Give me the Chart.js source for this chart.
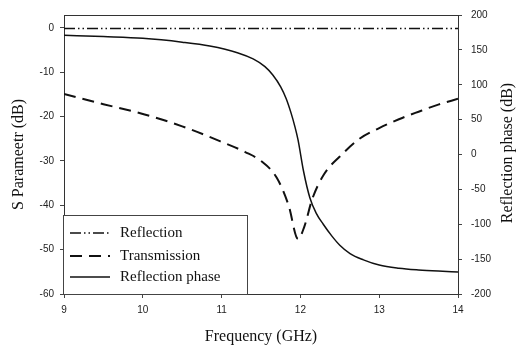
<!DOCTYPE html>
<html>
<head>
<meta charset="utf-8">
<script src="https://cdn.jsdelivr.net/npm/chart.js@4/dist/chart.umd.min.js"></script>
<style>
html, body { margin: 0; padding: 0; background: #fff; }
#wrap { width: 520px; height: 346px; }
</style>
</head>
<body>
<div id="wrap"><canvas id="chart"></canvas></div>
<script>
// values (frequency in GHz)
var reflFreq = [9, 10, 11, 12, 13, 14];
var reflDb = [-0.15, -0.15, -0.15, -0.15, -0.15, -0.15];

var transFreq = [9, 9.5, 10, 10.5, 11, 11.3, 11.5, 11.7, 11.85, 11.97, 12.05, 12.15, 12.3, 12.5, 12.75, 13, 13.25, 13.5, 13.75, 14];
var transDb = [-14.9, -17.2, -19.4, -22.2, -25.7, -28.0, -30.0, -33.8, -40.0, -47.6, -44.8, -38.6, -33.0, -29.0, -25.0, -22.6, -20.6, -18.9, -17.3, -16.0];

var phaseFreq = [9, 9.5, 10, 10.5, 10.85, 11.2, 11.4, 11.55, 11.65, 11.75, 11.82, 11.88, 11.93, 11.97, 12.04, 12.12, 12.2, 12.29, 12.4, 12.5, 12.63, 12.8, 13, 13.25, 13.5, 13.75, 14];
var phaseDeg = [171, 169, 166.5, 161, 155.5, 146, 137, 126, 114, 97, 80, 60, 40, 21, -24, -62, -84, -100, -117, -130, -142, -151, -158.5, -163, -165.5, -167.2, -168.5];

var xTicks = [9, 10, 11, 12, 13, 14];
var leftTicks = [-60, -50, -40, -30, -20, -10, 0];
var rightTicks = [-200, -150, -100, -50, 0, 50, 100, 150, 200];

function pts(xs, ys) {
    return xs.map(function (x, i) { return { x: x, y: ys[i] }; });
}

var tickFont = { family: "Liberation Sans", size: 10 };
var titleFont = { family: "Liberation Serif", size: 16 };

var framePlugin = {
    id: "frame",
    beforeDatasetsDraw: function (chart) {
        var ctx = chart.ctx, ca = chart.chartArea;
        ctx.save();
        ctx.strokeStyle = "#333";
        ctx.lineWidth = 1;
        ctx.strokeRect(Math.round(ca.left) + 0.5, Math.round(ca.top) + 0.5, Math.round(ca.right - ca.left), Math.round(ca.bottom - ca.top));
        ctx.restore();
    },
    afterDraw: function (chart) {
        var ctx = chart.ctx;
        // legend box
        ctx.save();
        ctx.fillStyle = "#fff";
        ctx.fillRect(63.5, 215.5, 184, 79);
        ctx.strokeStyle = "#444";
        ctx.lineWidth = 1;
        ctx.strokeRect(63.5, 215.5, 184, 79);
        var rows = [233, 256, 277];
        ctx.font = "15px 'Liberation Serif'";
        ctx.textBaseline = "middle";
        ctx.textAlign = "left";
        chart.data.datasets.forEach(function (ds, i) {
            ctx.strokeStyle = ds.borderColor;
            ctx.lineWidth = ds.borderWidth;
            ctx.setLineDash(ds.borderDash || []);
            ctx.beginPath();
            ctx.moveTo(70, rows[i]);
            ctx.lineTo(110, rows[i]);
            ctx.stroke();
            ctx.setLineDash([]);
            ctx.fillStyle = "#111";
            ctx.fillText(ds.label, 120, rows[i]);
        });
        // right axis title, reads bottom to top
        ctx.translate(508, 153);
        ctx.rotate(-Math.PI / 2);
        ctx.textAlign = "center";
        ctx.font = "16px 'Liberation Serif'";
        ctx.fillText("Reflection phase (dB)", 0, 0);
        ctx.restore();
    }
};

new Chart(document.getElementById("chart"), {
    type: "line",
    data: {
        datasets: [
            {
                label: "Reflection",
                data: pts(reflFreq, reflDb),
                yAxisID: "y",
                borderColor: "#111",
                borderWidth: 1.5,
                borderDash: [11, 3, 1.5, 3, 1.5, 3],
                pointRadius: 0,
                fill: false
            },
            {
                label: "Transmission",
                data: pts(transFreq, transDb),
                yAxisID: "y",
                borderColor: "#111",
                borderWidth: 2,
                borderDash: [12, 7],
                pointRadius: 0,
                cubicInterpolationMode: "monotone",
                fill: false
            },
            {
                label: "Reflection phase",
                data: pts(phaseFreq, phaseDeg),
                yAxisID: "y1",
                borderColor: "#111",
                borderWidth: 1.5,
                pointRadius: 0,
                cubicInterpolationMode: "monotone",
                fill: false
            }
        ]
    },
    options: {
        responsive: true,
        maintainAspectRatio: false,
        animation: false,
        devicePixelRatio: 1,
        layout: { padding: { top: 12, left: 0, right: 0, bottom: 0 } },
        plugins: {
            legend: { display: false },
            tooltip: { enabled: false }
        },
        scales: {
            x: {
                type: "linear",
                position: "bottom",
                min: 9,
                max: 14,
                afterBuildTicks: function (s) { s.ticks = xTicks.map(function (v) { return { value: v }; }); },
                afterFit: function (s) { s.height = 52; },
                ticks: { font: tickFont, color: "#222", padding: 6, maxRotation: 0 },
                grid: { drawOnChartArea: false, drawTicks: true, tickLength: 4, tickColor: "#444" },
                border: { display: false },
                title: { display: true, text: "Frequency (GHz)", font: titleFont, color: "#111", padding: { top: 0, bottom: 0 } }
            },
            y: {
                type: "linear",
                position: "left",
                min: -60,
                max: 2.9,
                afterBuildTicks: function (s) { s.ticks = leftTicks.map(function (v) { return { value: v }; }); },
                afterFit: function (s) { s.width = 64; },
                ticks: { font: tickFont, color: "#222", padding: 6 },
                grid: { drawOnChartArea: false, drawTicks: true, tickLength: 4, tickColor: "#444" },
                border: { display: false },
                title: { display: true, text: "S Parameetr (dB)", font: titleFont, color: "#111", padding: { top: 9, bottom: 0 } }
            },
            y1: {
                type: "linear",
                position: "right",
                min: -200,
                max: 200,
                afterBuildTicks: function (s) { s.ticks = rightTicks.map(function (v) { return { value: v }; }); },
                afterFit: function (s) { s.width = 62; },
                ticks: { font: tickFont, color: "#222", padding: 9 },
                grid: { drawOnChartArea: false, drawTicks: true, tickLength: 4, tickColor: "#444" },
                border: { display: false }
            }
        }
    },
    plugins: [framePlugin]
});
</script>
</body>
</html>
